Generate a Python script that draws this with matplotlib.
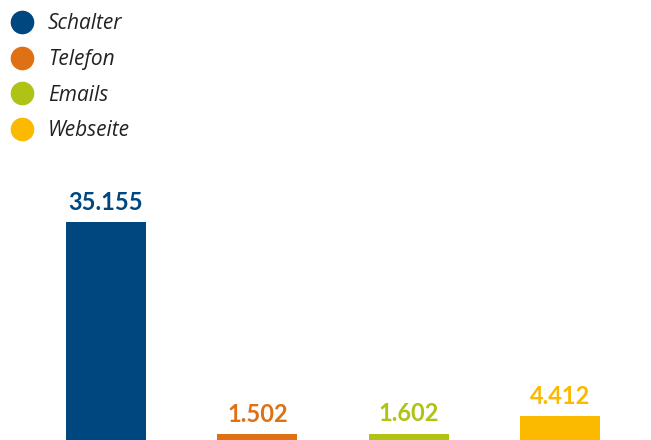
import matplotlib
matplotlib.use("Agg")
import matplotlib.pyplot as plt
from matplotlib.lines import Line2D

# data
categories = ["Schalter", "Telefon", "Emails", "Webseite"]
values = [35155, 1502, 1602, 4412]
labels = ["35.155", "1.502", "1.602", "4.412"]
colors = ["#00477f", "#e07014", "#aec314", "#fbba00"]

plt.rcParams['font.family'] = ['Lato', 'DejaVu Sans']

fig = plt.figure(figsize=(6.51, 4.40), dpi=100)
ax = fig.add_axes([0, 0, 1, 1])

x = list(range(len(categories)))
ax.bar(x, values, width=0.53, color=colors)

for xi, v, lab, c in zip(x, values, labels, colors):
    ax.annotate(lab, (xi, v), xytext=(0, 6), textcoords='offset points',
                ha='center', va='bottom', fontsize=17, fontweight='bold', color=c)

# baseline sits slightly below the bottom edge, as in the original
ax.set_xlim(-0.70, 3.60)
ax.set_ylim(602, 70342)
ax.axis('off')

handles = [Line2D([], [], marker='o', linestyle='none', markersize=16,
                  markerfacecolor=c, markeredgecolor=c) for c in colors]
leg = ax.legend(handles, categories, loc='upper left', bbox_to_anchor=(0.0, 0.991),
                frameon=False, labelspacing=0.7, handletextpad=0.65,
                handlelength=1.2, borderaxespad=0.25, borderpad=0.2,
                prop={'family': ['Open Sans', 'DejaVu Sans'], 'style': 'italic', 'size': 15})
for t in leg.get_texts():
    t.set_color('#222222')

fig.savefig("out.png", dpi=100)
